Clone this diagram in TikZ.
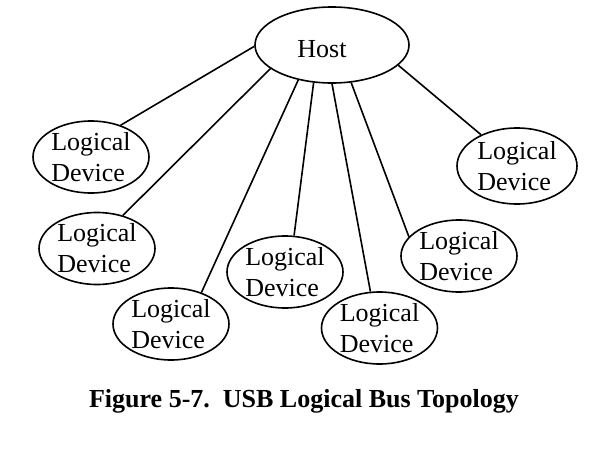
\documentclass[tikz,border=0pt]{standalone}
\usepackage{fontspec}
\setmainfont{Liberation Serif}
\usepackage{tikz}
\usetikzlibrary{shapes.geometric, positioning}

\begin{document}
\begin{tikzpicture}[
    x=1pt, y=-1pt,
    devnode/.style = {ellipse, draw=black, line width=1.6pt, minimum width=116pt, minimum height=72pt, inner sep=0pt, align=left, font=\fontsize{26}{31}\selectfont},
    hostnode/.style = {ellipse, draw=black, line width=1.6pt, minimum width=154pt, minimum height=76pt, inner sep=0pt},
    link/.style = {line width=1.6pt}
]
\useasboundingbox (0,0) rectangle (592,461);

\node [hostnode] (host) at (332,45) {};
\node [font=\fontsize{26}{31}\selectfont] (hostlabel) at (322,49) {Host};

\node [devnode] (dev1) at (91,157) {Logical\\Device};
\node [devnode] (dev2) at (97,248.5) {Logical\\Device};
\node [devnode] (dev3) at (171,324) {Logical\\Device};
\node [devnode] (dev4) at (285,272) {Logical\\Device};
\node [devnode] (dev5) at (379.5,328) {Logical\\Device};
\node [devnode] (dev6) at (459,256) {Logical\\Device};
\node [devnode, minimum width=120pt, minimum height=76pt] (dev7) at (517,166) {Logical\\Device};

\draw[link] (host.181) -- (dev1.47);
\draw[link] (host.201) -- (dev2.52);
\draw[link] (host.226) -- (dev3.46);
\draw[link] (host.244) -- (dev4.76);
\draw[link] (host.270) -- (dev5.104);
\draw[link] (host.297) -- (dev6.159);
\draw[link] (host.343) -- (dev7.139);

\node [font=\fontsize{26}{31}\selectfont\bfseries, anchor=base] (caption) at (304,407) {Figure 5-7.\ \ USB Logical Bus Topology};

\end{tikzpicture}
\end{document}
